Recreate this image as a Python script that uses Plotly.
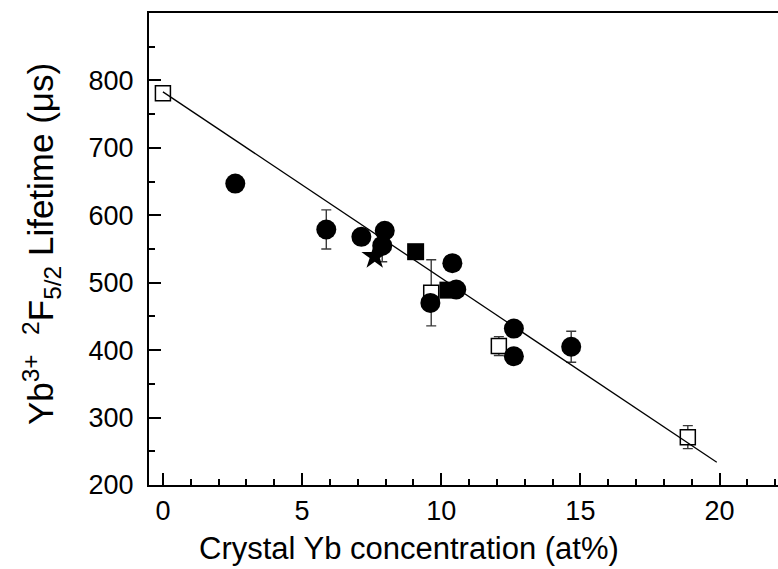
import plotly.graph_objects as go

# Yb3+ 2F5/2 lifetime versus crystal Yb concentration
circle_x = [2.6, 5.87, 7.13, 7.97, 7.88, 10.40, 9.61, 10.54, 12.61, 12.61, 14.67]
circle_y = [647, 579, 568, 577, 555, 529, 470, 490, 432, 391, 405]
circle_err = [0, 29, 0, 0, 24, 0, 0, 0, 0, 0, 23]

open_sq_x = [0.0, 9.64, 12.07, 18.86]
open_sq_y = [781, 485, 406, 271]
open_sq_err = [0, 49, 14, 17]

filled_sq_x = [9.08, 10.24]
filled_sq_y = [546, 489]

star_x = [7.61]
star_y = [539]

# linear fit: lifetime = intercept + slope * concentration
fit_intercept = 783.0
fit_slope = -27.6
fit_x = [0.0, 19.9]
fit_y = [fit_intercept + fit_slope * v for v in fit_x]

x_ticks = [0, 5, 10, 15, 20]
y_ticks = [200, 300, 400, 500, 600, 700, 800]

FONT = "Liberation Sans, Arial, sans-serif"

# points that carry error bars
err_x, err_y, err_v = [], [], []
for xs, ys, es in ((circle_x, circle_y, circle_err), (open_sq_x, open_sq_y, open_sq_err)):
    for xv, yv, ev in zip(xs, ys, es):
        if ev > 0:
            err_x.append(xv)
            err_y.append(yv)
            err_v.append(ev)

fig = go.Figure()

fig.add_trace(go.Scatter(
    x=err_x, y=err_y, mode="markers",
    marker=dict(size=1, opacity=0),
    error_y=dict(type="data", array=err_v, visible=True,
                 color="#3a3a3a", thickness=1.4, width=5),
    showlegend=False, hoverinfo="skip",
))

fig.add_trace(go.Scatter(
    x=open_sq_x, y=open_sq_y, mode="markers",
    marker=dict(symbol="square", size=15, color="white",
                line=dict(color="black", width=1.5)),
    showlegend=False,
))

fig.add_trace(go.Scatter(
    x=fit_x, y=fit_y, mode="lines",
    line=dict(color="black", width=1.3),
    showlegend=False,
))

fig.add_trace(go.Scatter(
    x=circle_x, y=circle_y, mode="markers",
    marker=dict(symbol="circle", size=20, color="black", line=dict(width=0)),
    showlegend=False,
))

fig.add_trace(go.Scatter(
    x=filled_sq_x, y=filled_sq_y, mode="markers",
    marker=dict(symbol="square", size=17, color="black", line=dict(width=0)),
    showlegend=False,
))

fig.add_trace(go.Scatter(
    x=star_x, y=star_y, mode="markers",
    marker=dict(symbol="star", size=20, color="black", line=dict(width=0)),
    showlegend=False,
))

fig.update_layout(
    width=778, height=569,
    margin=dict(l=149, r=0, t=13, b=84),
    paper_bgcolor="white", plot_bgcolor="white",
    font=dict(family=FONT, color="black"),
    xaxis=dict(
        range=[-0.5, 22.1], showgrid=False, zeroline=False,
        showline=True, linecolor="black", linewidth=2, mirror=True,
        ticks="inside", ticklen=12, tickwidth=1.6, tickcolor="black",
        tickvals=x_ticks, ticktext=[str(v) for v in x_ticks],
        tickfont=dict(size=27, family=FONT),
        ticklabelstandoff=1,
        minor=dict(dtick=1, ticks="inside", ticklen=6, tickwidth=1.6,
                   tickcolor="black", showgrid=False),
    ),
    yaxis=dict(
        range=[200, 900], showgrid=False, zeroline=False,
        showline=True, linecolor="black", linewidth=2, mirror=False,
        ticks="inside", ticklen=12, tickwidth=1.6, tickcolor="black",
        tickvals=y_ticks, ticktext=[str(v) for v in y_ticks],
        tickfont=dict(size=27, family=FONT),
        ticklabelstandoff=8,
        minor=dict(dtick=50, ticks="inside", ticklen=6, tickwidth=1.6,
                   tickcolor="black", showgrid=False),
    ),
    annotations=[
        dict(text="Crystal Yb concentration (at%)", xref="paper", yref="paper",
             x=0.413, y=-0.135, xanchor="center", yanchor="middle",
             showarrow=False, font=dict(size=31, family=FONT)),
        dict(text="Yb<sup>3+</sup>  <sup>2</sup>F<sub>5/2</sub> Lifetime (\u03bcs)",
             xref="paper", yref="paper", x=-0.172, y=0.51,
             xanchor="center", yanchor="middle", textangle=-90,
             showarrow=False, font=dict(size=35, family=FONT)),
    ],
)

fig.write_html("out.html")
